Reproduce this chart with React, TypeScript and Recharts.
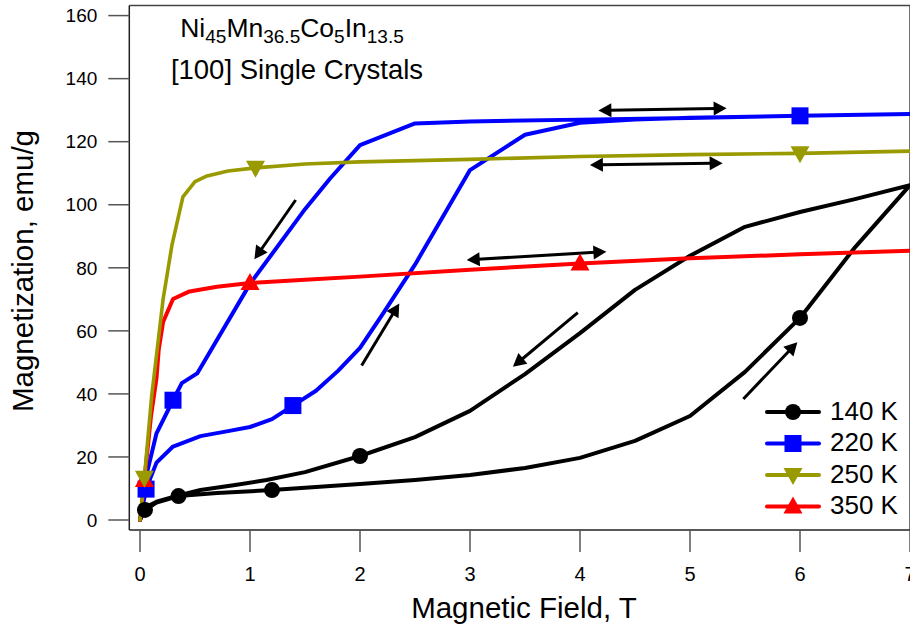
import React from 'react';
import { ComposedChart, Line, Scatter, XAxis, YAxis, ReferenceLine } from 'recharts';

const FONT = 'Liberation Sans, Arial, Helvetica, sans-serif';

const xTicks = [0, 1, 2, 3, 4, 5, 6, 7];
const yTicks = [0, 20, 40, 60, 80, 100, 120, 140, 160];
const xDomain: [number, number] = [-0.0973, 7];
const yDomain: [number, number] = [-3.17, 163.2];

// 140 K loop (field up, then field down)
const loop140: [number, number][] = [
  [0, 0], [0.045, 3.2], [0.15, 5.5], [0.35, 7.6], [0.7, 8.6], [1.2, 9.5], [2, 11.4], [2.5, 12.7],
  [3, 14.3], [3.5, 16.5], [4, 19.7], [4.5, 25.1], [5, 33], [5.5, 47], [6, 64.1], [6.5, 86.5], [7, 106.2],
  [6.5, 101.8], [6, 97.7], [5.5, 93], [5, 83.8], [4.5, 73], [4, 59.3], [3.5, 46.3], [3, 34.6],
  [2.5, 26.3], [2, 20.3], [1.5, 15.2], [1.15, 12.7], [0.85, 11], [0.55, 9.5], [0.35, 7.8], [0.15, 5.8], [0.05, 4],
];
const marks140: [number, number][] = [[0.045, 3.2], [0.35, 7.6], [1.2, 9.5], [2, 20.3], [6, 64.1]];

// 220 K loop
const loop220: [number, number][] = [
  [0, 0], [0.055, 9.8], [0.15, 18.2], [0.3, 23.3], [0.55, 26.6], [0.8, 28.2], [1.0, 29.5], [1.2, 32],
  [1.39, 36.3], [1.6, 41], [1.8, 47.3], [2, 54.6], [2.2, 65], [2.5, 81], [3, 111], [3.5, 122.2],
  [4, 126], [4.5, 127], [5, 127.6], [6, 128.2], [7, 128.8],
  [6, 128.2], [5, 127.5], [4, 127], [3, 126.4], [2.5, 125.8], [2, 118.9], [1.73, 108.4], [1.5, 98.6],
  [1, 74.9], [0.52, 46.5], [0.38, 43.4], [0.3, 38], [0.15, 27.5], [0.07, 15.9], [0.055, 11],
];
const marks220: [number, number][] = [[0.055, 9.8], [0.3, 38], [1.39, 36.3], [6, 128.2]];

// 250 K curve
const curve250: [number, number][] = [
  [0, 0], [0.04, 13.4], [0.106, 39.3], [0.21, 70], [0.29, 87.1], [0.39, 102.5], [0.5, 107.3],
  [0.6, 109], [0.8, 110.7], [1.05, 111.7], [1.5, 112.9], [2, 113.6], [3, 114.4], [4, 115.3],
  [5, 115.9], [6, 116.3], [7, 117],
];
const marks250: [number, number][] = [[0.04, 13.4], [1.05, 111.7], [6, 116.3]];

// 350 K curve
const curve350: [number, number][] = [
  [0, 0], [0.04, 12.7], [0.1, 33], [0.15, 45], [0.17, 54], [0.21, 62.8], [0.3, 70.1], [0.45, 72.5],
  [0.7, 74], [1, 75.2], [1.5, 76.2], [2, 77.2], [3, 79.4], [4, 81.4], [5, 83], [6, 84.3], [7, 85.4],
];
const marks350: [number, number][] = [[0.04, 12.7], [1, 75.2], [4, 81.4]];

// arrows: [x1, y1, x2, y2, doubleHeaded]
const arrows: [number, number, number, number, boolean][] = [
  [4.167, 129.9, 5.333, 130.6, true],
  [4.09, 112.6, 5.297, 113.2, true],
  [2.97, 82.5, 4.24, 85.1, true],
  [1.415, 101.5, 1.04, 82.7, false],
  [2.015, 49.0, 2.357, 68.7, false],
  [3.98, 65.8, 3.39, 48.6, false],
  [5.485, 38.4, 5.976, 56.4, false],
];

const seriesLabels = ['140 K', '220 K', '250 K', '350 K'];
const seriesColors = ['#000000', '#0000FF', '#999900', '#FF0000'];

const toPts = (a: [number, number][]) => a.map(([x, y]) => ({ x, y }));

const Circle = (cx: number, cy: number, c: string) => <circle cx={cx} cy={cy} r={8} fill={c} />;
const Square = (cx: number, cy: number, c: string) => <rect x={cx - 8.5} y={cy - 8.5} width={17} height={17} fill={c} />;
const TriDown = (cx: number, cy: number, c: string) => (
  <polygon points={`${cx - 9.5},${cy - 7} ${cx + 9.5},${cy - 7} ${cx},${cy + 10}`} fill={c} />
);
const TriUp = (cx: number, cy: number, c: string) => (
  <polygon points={`${cx - 9.5},${cy + 7} ${cx + 9.5},${cy + 7} ${cx},${cy - 10}`} fill={c} />
);
const markerFns = [Circle, Square, TriDown, TriUp];

const mkShape = (i: number) => (p: any) => {
  if (p == null || p.cx == null || p.cy == null) return <g />;
  return markerFns[i](p.cx, p.cy, seriesColors[i]);
};

const arrowShape = (dbl: boolean) => (p: any) => {
  const { x1, y1, x2, y2 } = p;
  const dx = x2 - x1;
  const dy = y2 - y1;
  const len = Math.sqrt(dx * dx + dy * dy) || 1;
  const ux = dx / len;
  const uy = dy / len;
  const hl = 13;
  const hw = 7;
  const head = (tx: number, ty: number, sx: number, sy: number) => {
    const bx = tx - sx * hl;
    const by = ty - sy * hl;
    return `${tx},${ty} ${bx - sy * hw},${by + sx * hw} ${bx + sy * hw},${by - sx * hw}`;
  };
  const sx1 = dbl ? x1 + ux * (hl - 2) : x1;
  const sy1 = dbl ? y1 + uy * (hl - 2) : y1;
  return (
    <g>
      <line x1={sx1} y1={sy1} x2={x2 - ux * (hl - 2)} y2={y2 - uy * (hl - 2)} stroke="#000" strokeWidth={3} />
      <polygon points={head(x2, y2, ux, uy)} fill="#000" />
      {dbl && <polygon points={head(x1, y1, -ux, -uy)} fill="#000" />}
    </g>
  );
};

export default function App() {
  const lines = [loop140, loop220, curve250, curve350];
  const marks = [marks140, marks220, marks250, marks350];
  const order = [0, 1, 3, 2];
  const legendY = [412, 443.5, 475, 506.5];
  return (
    <div style={{ position: 'absolute', left: 0, top: 0, width: 910, height: 628, overflow: 'hidden', background: '#fff' }}>
      <ComposedChart
        width={910}
        height={628}
        margin={{ top: 5.5, right: 0, left: 0, bottom: 0 }}
        style={{ fontFamily: FONT }}
      >
        <XAxis
          type="number"
          dataKey="x"
          domain={xDomain}
          allowDataOverflow
          ticks={xTicks}
          interval={0}
          height={98}
          tickSize={22}
          tickMargin={15}
          axisLine={{ stroke: '#222', strokeWidth: 1.5 }}
          tickLine={{ stroke: '#555', strokeWidth: 1.5 }}
          tick={{ fill: '#000', fontSize: 20, fontFamily: FONT }}
        />
        <YAxis
          type="number"
          dataKey="y"
          domain={yDomain}
          allowDataOverflow
          ticks={yTicks}
          interval={0}
          width={129.3}
          tickSize={21}
          tickMargin={11}
          axisLine={{ stroke: '#222', strokeWidth: 1.5 }}
          tickLine={{ stroke: '#555', strokeWidth: 1.5 }}
          tick={{ fill: '#000', fontSize: 19, fontFamily: FONT }}
        />
        <ReferenceLine y={yDomain[1]} stroke="#444" strokeWidth={1.5} ifOverflow="visible" />
        <ReferenceLine x={xDomain[1]} stroke="#444" strokeWidth={1.5} ifOverflow="visible" />
        {arrows.map((a, i) => (
          <ReferenceLine
            key={'ar' + i}
            segment={[{ x: a[0], y: a[1] }, { x: a[2], y: a[3] }]}
            ifOverflow="visible"
            shape={arrowShape(a[4])}
          />
        ))}
        {order.map((i) => (
          <Line
            key={'l' + i}
            data={toPts(lines[i])}
            dataKey="y"
            type="linear"
            stroke={seriesColors[i]}
            strokeWidth={i === 2 ? 3.6 : 4}
            strokeLinejoin="round"
            strokeLinecap="round"
            dot={false}
            activeDot={false}
            isAnimationActive={false}
          />
        ))}
        {order.map((i) => (
          <Scatter
            key={'s' + i}
            data={toPts(marks[i])}
            dataKey="y"
            shape={mkShape(i)}
            isAnimationActive={false}
          />
        ))}
        <text x={292} y={37} textAnchor="middle" fontSize={26.5} fontFamily={FONT} fill="#000">
          Ni<tspan fontSize={19} dy={6}>45</tspan>
          <tspan dy={-6}>Mn</tspan><tspan fontSize={19} dy={6}>36.5</tspan>
          <tspan dy={-6}>Co</tspan><tspan fontSize={19} dy={6}>5</tspan>
          <tspan dy={-6}>In</tspan><tspan fontSize={19} dy={6}>13.5</tspan>
        </text>
        <text x={297} y={79} textAnchor="middle" fontSize={27.5} fontFamily={FONT} fill="#000">
          [100] Single Crystals
        </text>
        <text x={524} y={618} textAnchor="middle" fontSize={29.5} fontFamily={FONT} fill="#000">
          Magnetic Field, T
        </text>
        <text x={33} y={271} textAnchor="middle" fontSize={29.5} fontFamily={FONT} fill="#000" transform="rotate(-90, 33, 271)">
          Magnetization, emu/g
        </text>
        <g>
          {seriesLabels.map((lab, i) => (
            <g key={'lg' + i}>
              <line x1={767} y1={legendY[i]} x2={819} y2={legendY[i]} stroke={seriesColors[i]} strokeWidth={4} strokeLinecap="round" />
              {markerFns[i](793, legendY[i], seriesColors[i])}
              <text x={830} y={legendY[i] + 7.5} fontSize={26} fontFamily={FONT} fill="#000">{lab}</text>
            </g>
          ))}
        </g>
      </ComposedChart>
    </div>
  );
}
